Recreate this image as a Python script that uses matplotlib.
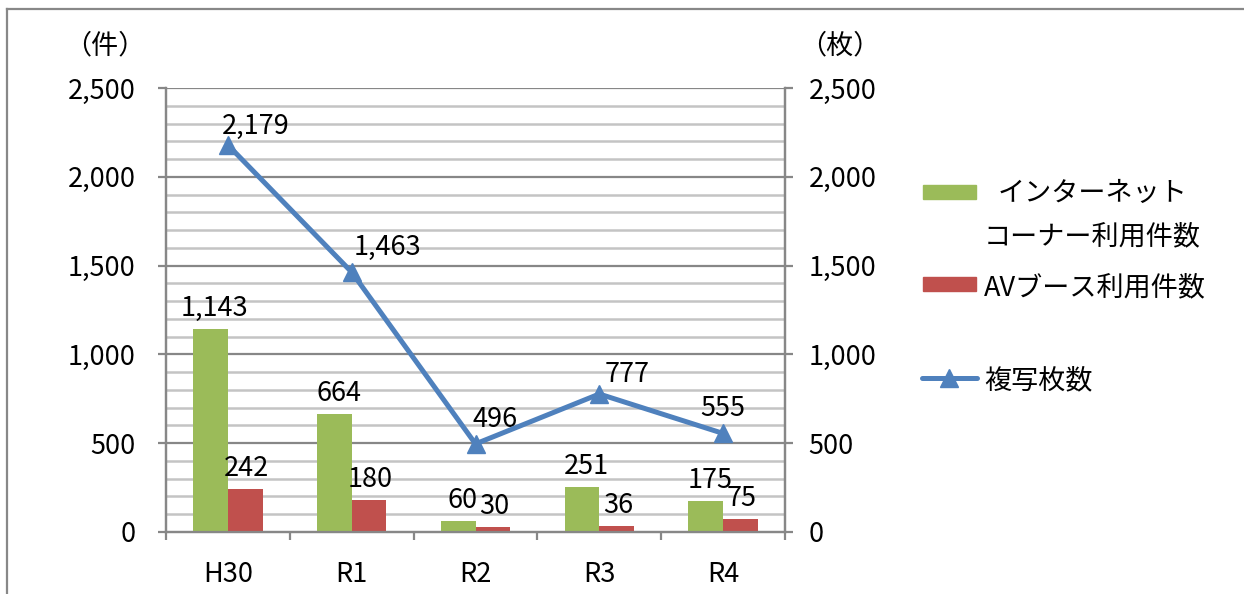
import matplotlib
matplotlib.use("Agg")
import matplotlib.pyplot as plt
import numpy as np
from matplotlib.lines import Line2D
from matplotlib.patches import Rectangle

plt.rcParams['font.family'] = ['Noto Sans CJK JP', 'DejaVu Sans']

# data
years = ["H30", "R1", "R2", "R3", "R4"]
internet = [1143, 664, 60, 251, 175]
av_booth = [242, 180, 30, 36, 75]
copies = [2179, 1463, 496, 777, 555]

label_internet = "インターネット\nコーナー利用件数"
label_av = "AVブース利用件数"
label_copies = "複写枚数"

GREEN = "#9BBB59"
RED = "#C0504D"
BLUE = "#4F81BD"
AXIS = "#878787"
MINOR = "#c4c4c4"
FS = 19.5

fig = plt.figure(figsize=(12.44, 5.94), dpi=100)
ax = fig.add_axes([166 / 1244, 62 / 594, 619 / 1244, 444 / 594])
ax2 = ax.twinx()

x = np.arange(len(years))
w = 0.28
ax.bar(x - w / 2, internet, w, color=GREEN, zorder=3)
ax.bar(x + w / 2, av_booth, w, color=RED, zorder=3)

for i in range(len(years)):
    ax.annotate(f"{internet[i]:,}", (x[i] - w / 2, internet[i]), xytext=(3, 5),
                textcoords="offset points", ha="center", va="bottom", fontsize=FS)
    ax.annotate(f"{av_booth[i]:,}", (x[i] + w / 2, av_booth[i]), xytext=(1, 5),
                textcoords="offset points", ha="center", va="bottom", fontsize=FS)

ax2.plot(x, copies, color=BLUE, lw=3.6, marker="^", ms=13, zorder=5)
# label offsets (points) for the line labels
offs = [(20, 4), (26, 8), (14, 8), (20, 4), (0, 8)]
for i in range(len(years)):
    ax2.annotate(f"{copies[i]:,}", (x[i], copies[i]), xytext=offs[i],
                 textcoords="offset points", ha="center", va="bottom", fontsize=FS)

for a in (ax, ax2):
    a.set_ylim(0, 2500)
    a.set_yticks(np.arange(0, 2501, 500))
    a.set_yticklabels([f"{v:,}" for v in range(0, 2501, 500)], fontsize=FS)
    for s in a.spines.values():
        s.set_color(AXIS)
        s.set_linewidth(1.6)
    a.spines["top"].set_visible(False)
    a.tick_params(axis="y", length=6, width=1.6, color=AXIS)
ax.tick_params(axis="y", pad=16)
ax2.tick_params(axis="y", pad=11)

ax.set_xlim(-0.5, len(years) - 0.5)
ax.set_xticks(x)
ax.set_xticklabels(years, fontsize=FS)
ax.set_xticks(np.arange(-0.5, len(years), 1), minor=True)
ax.tick_params(axis="x", which="major", length=0, pad=21)
ax.tick_params(axis="x", which="minor", length=6, width=1.6, color=AXIS)

# gridlines
for v in range(100, 2501, 100):
    if v % 500 == 0:
        ax.axhline(v, color=AXIS, lw=1.6, zorder=1)
    else:
        ax.axhline(v, color=MINOR, lw=1.8, zorder=1)

fig.text(105 / 1244, 1 - 46 / 594, "（件）", fontsize=FS, ha="center", va="center")
fig.text(840 / 1244, 1 - 46 / 594, "（枚）", fontsize=FS, ha="center", va="center")

# legend drawn by hand
def fx(px):
    return px / 1244

def fy(py):
    return 1 - py / 594

fig.add_artist(Rectangle((fx(923), fy(199)), fx(976) - fx(923), fy(185) - fy(199),
                         transform=fig.transFigure, color=GREEN))
fig.text(fx(998), fy(193), label_internet.split("\n")[0], fontsize=FS, va="center")
fig.text(fx(984), fy(237), label_internet.split("\n")[1], fontsize=FS, va="center")
fig.add_artist(Rectangle((fx(923), fy(291)), fx(976) - fx(923), fy(277) - fy(291),
                         transform=fig.transFigure, color=RED))
fig.text(fx(984), fy(288), label_av, fontsize=FS, va="center")
fig.add_artist(Line2D([fx(922), fx(977)], [fy(378), fy(378)], transform=fig.transFigure,
                      color=BLUE, lw=3.6, solid_capstyle="round"))
fig.add_artist(Line2D([fx(949)], [fy(378)], transform=fig.transFigure, color=BLUE,
                      marker="^", ms=13))
fig.text(fx(984), fy(381), label_copies, fontsize=FS, va="center")

# outer frame (top and left edges)
fig.add_artist(Line2D([fx(7), 1], [fy(8.5), fy(8.5)], transform=fig.transFigure, color="#888888", lw=1.6))
fig.add_artist(Line2D([fx(7), fx(7)], [0, fy(8.5)], transform=fig.transFigure, color="#888888", lw=1.6))

fig.savefig("out.png", dpi=100)
